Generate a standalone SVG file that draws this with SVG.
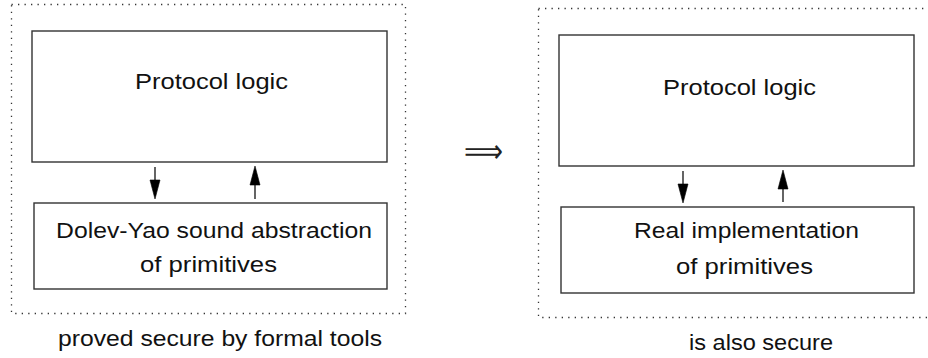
<svg xmlns="http://www.w3.org/2000/svg" width="928" height="358" viewBox="0 0 928 358">
  <defs>
    <style>
      .frame { fill: none; stroke: #333; stroke-width: 1.3; stroke-dasharray: 1.3 5.2; }
      .box { fill: #fff; stroke: #333; stroke-width: 1.4; }
      .lbl { font-family: "Liberation Sans", "DejaVu Sans", sans-serif; font-size: 22.5px; fill: #111; }
      .link { stroke: #111; stroke-width: 1.3; fill: none; }
      .tip { fill: #000; stroke: #000; stroke-width: 0.6; stroke-linejoin: miter; }
    </style>
  </defs>

  <!-- left side: abstract model -->
  <g id="abstract-frame">
    <rect class="frame" x="11.5" y="4.5" width="394" height="309"/>
  </g>
  <g id="abstract-logic">
    <rect class="box" x="32" y="31" width="355" height="131"/>
    <text class="lbl" x="135" y="89" textLength="153" lengthAdjust="spacingAndGlyphs">Protocol logic</text>
  </g>
  <g id="abstract-primitives">
    <rect class="box" x="34" y="203" width="353" height="86"/>
    <text class="lbl" x="56" y="238" textLength="316" lengthAdjust="spacingAndGlyphs">Dolev-Yao sound abstraction</text>
    <text class="lbl" x="140" y="272" textLength="137" lengthAdjust="spacingAndGlyphs">of primitives</text>
  </g>
  <g id="abstract-caption">
    <text class="lbl" x="58" y="346" textLength="324" lengthAdjust="spacingAndGlyphs">proved secure by formal tools</text>
  </g>

  <!-- implication -->
  <g id="implies">
    <text x="464" y="162" font-family="DejaVu Sans, sans-serif" font-size="32" fill="#222" textLength="39" lengthAdjust="spacingAndGlyphs">⟹</text>
  </g>

  <!-- right side: real implementation -->
  <g id="real-frame">
    <rect class="frame" x="538.5" y="8.5" width="394" height="309"/>
  </g>
  <g id="real-logic">
    <rect class="box" x="559" y="35" width="355" height="131"/>
    <text class="lbl" x="663" y="95" textLength="153" lengthAdjust="spacingAndGlyphs">Protocol logic</text>
  </g>
  <g id="real-primitives">
    <rect class="box" x="561" y="207" width="353" height="86"/>
    <text class="lbl" x="634" y="238" textLength="225" lengthAdjust="spacingAndGlyphs">Real implementation</text>
    <text class="lbl" x="676" y="274" textLength="137" lengthAdjust="spacingAndGlyphs">of primitives</text>
  </g>
  <g id="real-caption">
    <text class="lbl" x="689" y="350" textLength="144" lengthAdjust="spacingAndGlyphs">is also secure</text>
  </g>

  <!-- connectors: shafts plus filled triangular heads -->
  <g id="connectors">
    <line class="link" x1="155" y1="167" x2="155" y2="182"/>
    <polygon class="tip" points="150,180 160,180 155,199"/>
    <line class="link" x1="255" y1="199" x2="255" y2="183"/>
    <polygon class="tip" points="250,185 260,185 255,166"/>
    <line class="link" x1="683" y1="171" x2="683" y2="186"/>
    <polygon class="tip" points="678,184 688,184 683,203"/>
    <line class="link" x1="783" y1="202" x2="783" y2="187"/>
    <polygon class="tip" points="778,189 788,189 783,170"/>
  </g>
</svg>
